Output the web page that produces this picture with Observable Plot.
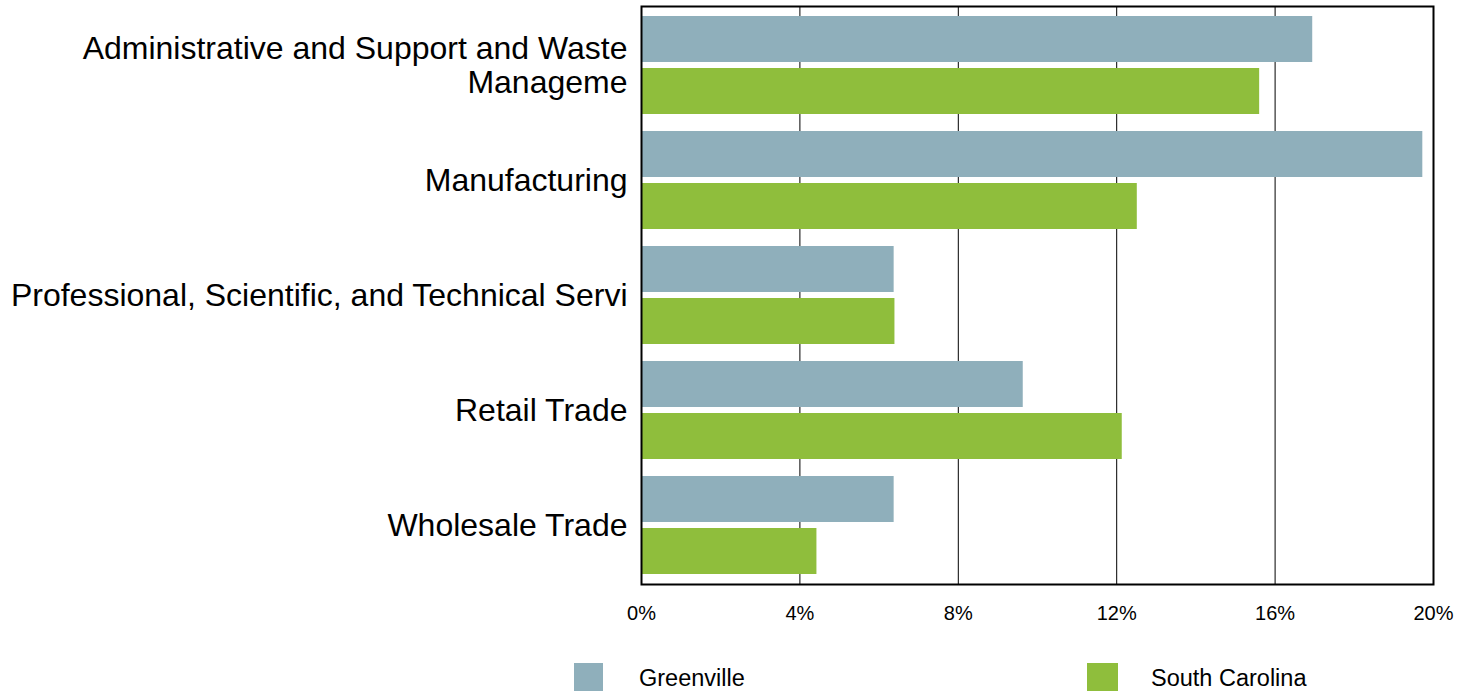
<!DOCTYPE html>
<html>
<head>
<meta charset="utf-8">
<script src="https://cdn.jsdelivr.net/npm/d3@7"></script>
<script src="https://cdn.jsdelivr.net/npm/@observablehq/plot@0.6"></script>
<style>
  html, body { margin: 0; padding: 0; background: #fff; }
  body { width: 1471px; height: 693px; overflow: hidden; font-family: "Liberation Sans", Arial, sans-serif; }
  #chart svg { display: block; }
  #legend { position: relative; width: 1471px; height: 48px; }
  #legend .sw { position: absolute; top: 18px; width: 29px; height: 28px; }
  #legend .lb { position: absolute; top: 20px; font-size: 23.5px; line-height: 26px; color: #000; }
</style>
</head>
<body>
<div id="chart"></div>
<div id="legend"></div>
<script>
const categories = [
  "Administrative and Support and Waste Manageme",
  "Manufacturing",
  "Professional, Scientific, and Technical Servi",
  "Retail Trade",
  "Wholesale Trade"
];
const categoryLabels = [
  "Administrative and Support and Waste\nManageme",
  "Manufacturing",
  "Professional, Scientific, and Technical Servi",
  "Retail Trade",
  "Wholesale Trade"
];
const series = ["Greenville", "South Carolina"];
const greenville = [0.1695, 0.1973, 0.0638, 0.0964, 0.0638];
const southCarolina = [0.1561, 0.1252, 0.0640, 0.1214, 0.0443];
const colors = ["#8FAFBB", "#8FBE3C"];
const xTicks = [0, 0.04, 0.08, 0.12, 0.16, 0.20];

const gRows = categories.map((c, i) => ({category: c, series: series[0], value: greenville[i]}));
const sRows = categories.map((c, i) => ({category: c, series: series[1], value: southCarolina[i]}));
const labelOf = new Map(categories.map((c, i) => [c, categoryLabels[i]]));
const pct = d => Math.round(d * 100) + "%";

const chart = Plot.plot({
  width: 1471,
  height: 645,
  marginLeft: 641,
  marginRight: 38,
  marginTop: 6,
  marginBottom: 61,
  style: {fontFamily: "'Liberation Sans', Arial, sans-serif", fontSize: "20px", color: "#000", background: "#fff"},
  x: {domain: [0, 0.2]},
  y: {domain: categories, paddingInner: 0.146, paddingOuter: 0.075},
  color: {domain: series, range: colors},
  marks: [
    Plot.gridX(xTicks, {stroke: "#000", strokeOpacity: 1, strokeWidth: 1}),
    Plot.barX(gRows, {y: "category", x: "value", fill: "series", insetBottom: 52}),
    Plot.barX(sRows, {y: "category", x: "value", fill: "series", insetTop: 52}),
    Plot.frame({stroke: "#000", strokeWidth: 2}),
    Plot.axisX({ticks: xTicks, tickFormat: pct, tickSize: 0, tickPadding: 21, fontSize: 20, label: null}),
    Plot.axisY({tickSize: 0, tickPadding: 14, fontSize: 32, lineHeight: 1.06, tickFormat: d => labelOf.get(d), label: null})
  ]
});
document.getElementById("chart").appendChild(chart);

const legend = document.getElementById("legend");
const legendPos = [{sw: 574, lb: 639}, {sw: 1087, lb: 1151}];
series.forEach((s, i) => {
  const sw = document.createElement("div");
  sw.className = "sw";
  sw.style.left = legendPos[i].sw + "px";
  sw.style.background = colors[i];
  if (i === 1) sw.style.width = "31px";
  legend.appendChild(sw);
  const lb = document.createElement("div");
  lb.className = "lb";
  lb.style.left = legendPos[i].lb + "px";
  lb.textContent = s;
  legend.appendChild(lb);
});
</script>
</body>
</html>
